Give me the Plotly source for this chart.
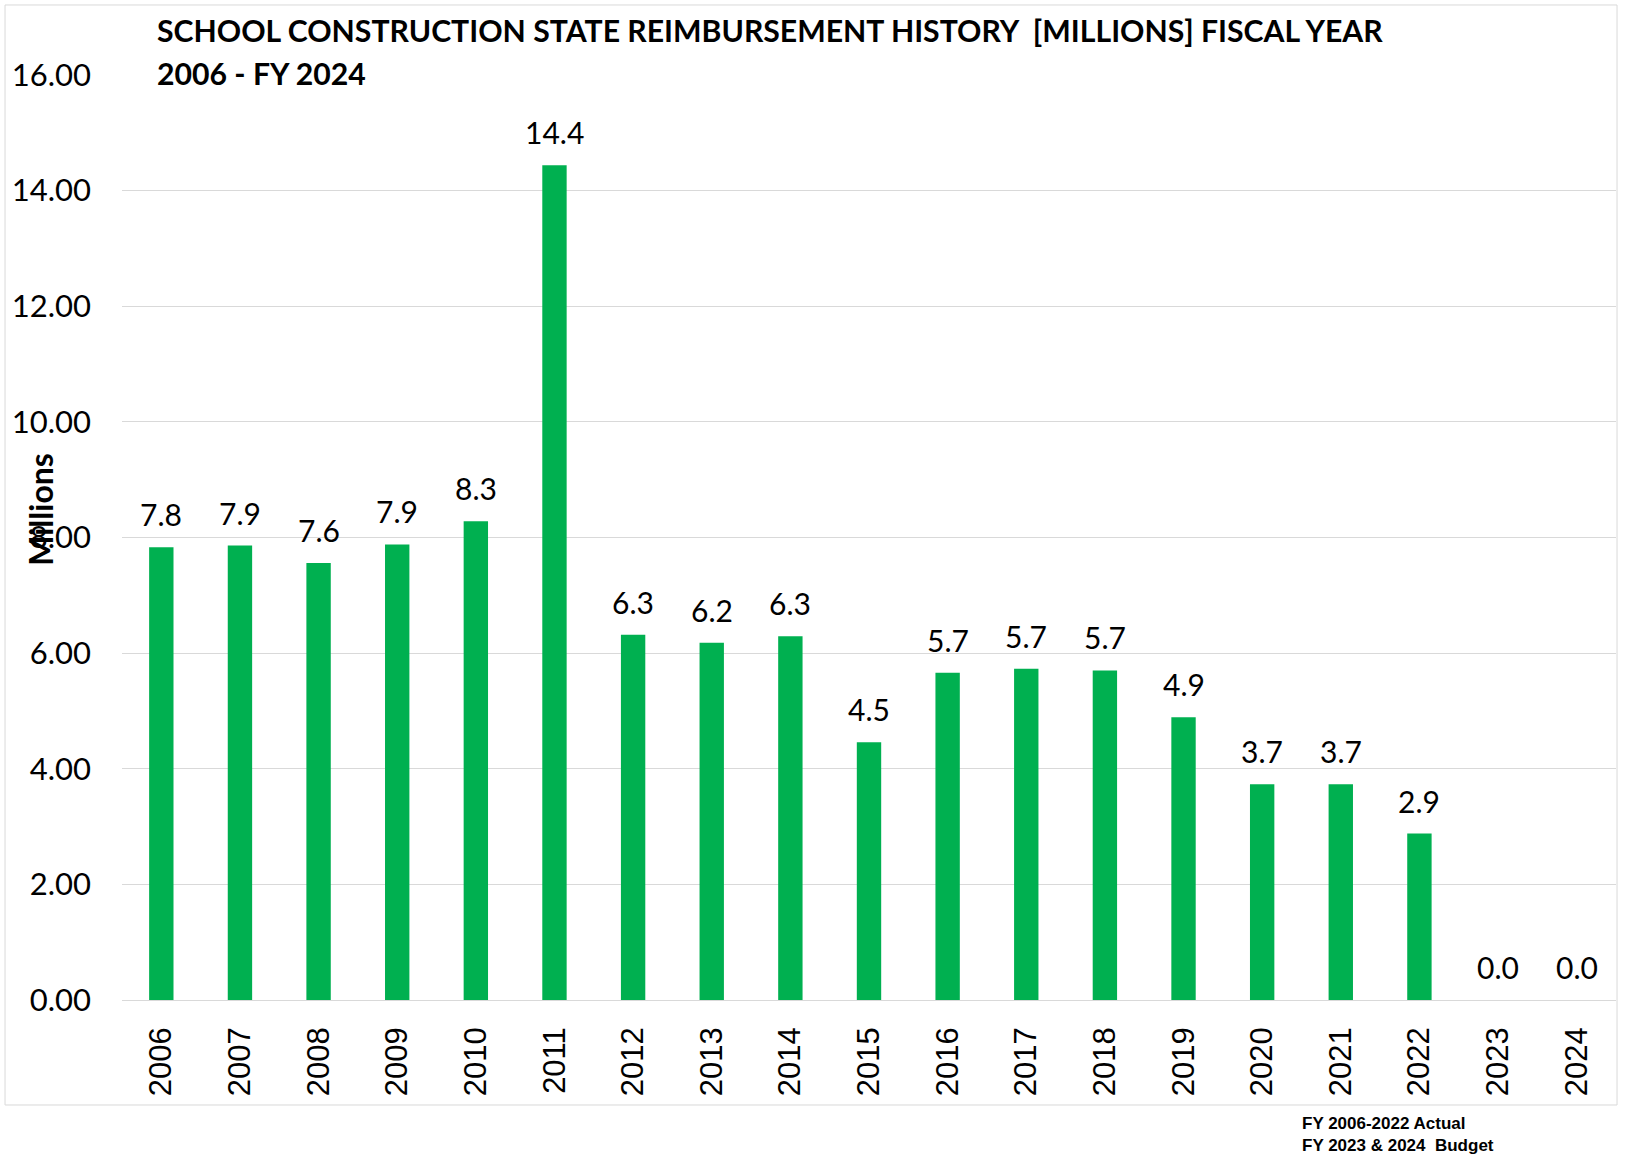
import plotly.graph_objects as go

years = ["2006", "2007", "2008", "2009", "2010", "2011", "2012", "2013", "2014", "2015",
         "2016", "2017", "2018", "2019", "2020", "2021", "2022", "2023", "2024"]
values = [7.83, 7.86, 7.56, 7.88, 8.28, 14.44, 6.32, 6.18, 6.29, 4.46,
          5.66, 5.73, 5.70, 4.89, 3.73, 3.73, 2.88, 0.0, 0.0]
y_ticks = [0, 2, 4, 6, 8, 10, 12, 14, 16]
title_lines = ["SCHOOL CONSTRUCTION STATE REIMBURSEMENT HISTORY&nbsp; [MILLIONS] FISCAL YEAR",
               "2006 - FY 2024"]
note_lines = ["FY 2006-2022 Actual", "FY 2023 &amp; 2024&nbsp; Budget"]

BAR_COLOR = "#00b050"
GRID = "#d9d9d9"
LBL_FONT = "Lato, Calibri, sans-serif"

fig = go.Figure()
fig.add_trace(go.Bar(x=years, y=values, marker=dict(color=BAR_COLOR, line=dict(width=0)),
                     hoverinfo="x+y"))

annotations = []
for i, v in enumerate(values):
    annotations.append(dict(x=i, y=v, xref="x", yref="y", text=f"{v:.1f}",
                            showarrow=False, yanchor="bottom", yshift=13,
                            font=dict(family=LBL_FONT, size=30, color="black")))

for line, ypos in zip(title_lines, [1.0703, 1.0242]):
    annotations.append(dict(xref="paper", yref="paper", x=0.022, y=ypos, xanchor="left", yanchor="top",
                            align="left", showarrow=False, text=f"<b>{line}</b>",
                            font=dict(family=LBL_FONT, size=30.2, color="black")))
annotations.append(dict(xref="paper", yref="paper", x=-0.0542, y=0.53, textangle=-90,
                        xanchor="center", yanchor="middle",
                        showarrow=False, text="<b>Millions</b>",
                        font=dict(family=LBL_FONT, size=32, color="black")))
annotations.append(dict(xref="paper", yref="paper", x=0.7885, y=-0.121, xanchor="left", yanchor="top",
                        align="left", showarrow=False,
                        text="<b>" + "<br>".join(note_lines) + "</b>",
                        font=dict(family="Liberation Sans, Arial, sans-serif", size=17, color="black")))

fig.update_layout(
    width=1625, height=1158,
    margin=dict(l=122, r=9, t=75, b=158, autoexpand=False),
    paper_bgcolor="white", plot_bgcolor="white",
    bargap=0.69,
    showlegend=False,
    annotations=annotations,
    shapes=[dict(type="rect", xref="paper", yref="paper", x0=-0.0783, x1=1.0007, y0=-0.1135, y1=1.0757,
                 line=dict(color=GRID, width=1), fillcolor="rgba(0,0,0,0)", layer="below")],
)
fig.update_xaxes(type="category", range=[-0.5, len(years) - 0.5], tickangle=-90, showgrid=False,
                 showline=False, ticks="", ticklabelstandoff=20, automargin=False,
                 tickfont=dict(family="Liberation Sans, Arial, sans-serif", size=31, color="black"))
fig.update_yaxes(range=[0, 16], tickvals=y_ticks, tickformat=".2f", showgrid=True, gridcolor=GRID,
                 gridwidth=1, zeroline=True, zerolinecolor=GRID, zerolinewidth=1, showline=False,
                 ticks="", ticklabelstandoff=30, automargin=False,
                 tickfont=dict(family=LBL_FONT, size=31, color="black"))

fig.write_html("out.html", config={"displayModeBar": False},
               post_script="document.body.style.margin='0';")
